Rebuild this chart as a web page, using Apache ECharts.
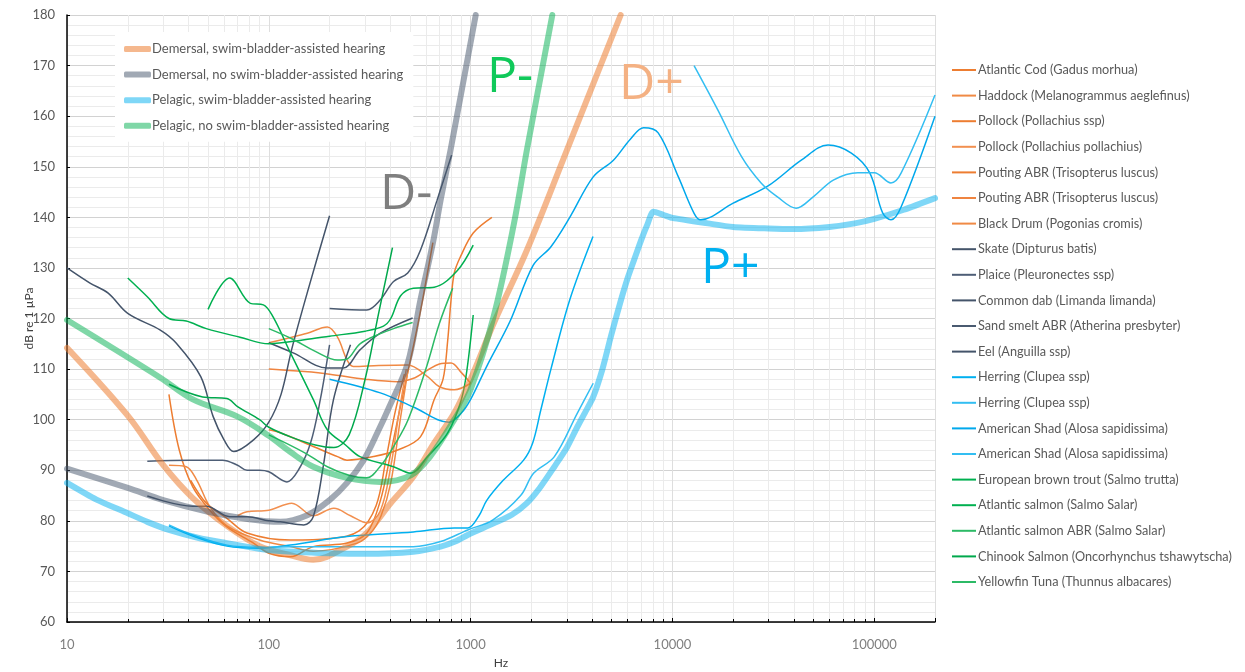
<!DOCTYPE html>
<html><head><meta charset="utf-8">
<script src="https://cdn.jsdelivr.net/npm/echarts@6/dist/echarts.min.js"></script>
<style>html,body{margin:0;padding:0;background:#fff}#c{width:1245px;height:672px}</style>
</head><body><div id="c"></div>
<script>
// ---- reference envelopes (Hz, dB re 1 µPa)
const demersalSB   = [[10,114.2],[20,100.8],[30,91],[42,84.5],[62,79],[90,75],[128,73.2],[166,72.3],[244,74.9],[306,77.6],[402,83.5],[520,88.7],[660,95.4],[830,101.3],[1000,108],[1300,119],[1900,133.5],[3000,153.3],[5540,180]];
const demersalNoSB = [[10,90.3],[20,86.5],[30,84.1],[50,81.8],[80,80.3],[114,79.8],[155,81.1],[200,84.1],[244,87.5],[295,92],[345,97.4],[395,102.5],[488,111.2],[564,123.7],[650,134.9],[710,143.4],[795,153.3],[1060,180]];
const pelagicSB    = [[10,87.5],[14,84.2],[20,81.5],[25,79.8],[32,78.2],[45,76.6],[62,75.6],[80,74.8],[100,74.2],[150,73.8],[200,73.6],[300,73.5],[520,73.9],[710,74.9],[850,76],[967,77.2],[1300,79.5],[1600,81.2],[1900,83.5],[2200,86.5],[2600,90.7],[3000,94.5],[3380,98.6],[3700,101.5],[4050,104.5],[4500,110],[4950,116.4],[5500,123],[6000,128],[6460,131.6],[7000,135.5],[7500,138.5],[8050,141.1],[9000,140.5],[10000,139.9],[15000,138.8],[20000,138.1],[30000,137.8],[40000,137.7],[60000,138.1],[80000,138.8],[100000,139.7],[140000,141.5],[200000,143.8]];
const pelagicNoSB  = [[10,119.7],[29,108.3],[42,104],[70,100.6],[100,96.8],[128,93.6],[166,90.7],[244,88.5],[357,87.7],[505,89],[630,92.7],[830,100],[1000,106],[1300,120.4],[1640,138.8],[1900,153.3],[2540,180]];

// ---- species audiograms
const atlanticCod   = [[32,105],[36,94],[42,86.7],[51,82.1],[62,78.8],[84,75.6],[100,73.6],[128,72.9],[166,74.9],[244,75.6],[306,77.6],[357,84],[400,93],[435,100],[480,108],[530,116],[580,124],[650,135]];
const haddock       = [[32,91],[39,90.7],[44,88],[51,82.8],[62,79],[90,76.2],[128,74.9],[166,74],[274,75.6],[320,77.6],[360,81],[402,87.5],[450,100.5],[490,110]];
const pollockSsp    = [[41,88],[49,83.5],[62,80.5],[78,77.6],[128,76.2],[200,76.5],[280,78],[340,83],[380,92],[420,101],[470,109]];
const pollockPoll   = [[70,81],[78,81.8],[100,82.1],[130,83.5],[166,81],[210,82.5],[254,81],[306,79.6],[357,82],[402,90.7],[440,101],[480,110]];
const poutingA      = [[100,98],[114,97.4],[166,94.7],[219,92.7],[244,92],[330,92.7],[435,94],[564,96.6],[660,104],[730,108],[770,115.7],[800,123.7],[830,129],[890,132.2],[1030,136.9],[1275,140]];
const poutingB      = [[100,110],[150,109.5],[200,109],[300,108],[435,107.5],[530,108.3],[612,109.8],[700,111],[800,111.2],[900,109.3],[1000,107.2]];
const blackDrum     = [[100,115.2],[130,116.3],[155,117.1],[195,118.3],[219,116.3],[244,111.8],[262,110.5],[350,110.7],[488,110.8],[612,108.5],[700,106.5],[830,105.9],[1000,107.2]];
const skate         = [[10,130],[13,127],[16,125],[20,121],[29,117.7],[35,115],[46,108.5],[53,100.6],[60,96],[67,93.7],[84,96],[100,99.5],[115,105],[130,114],[160,127],[200,140.3]];
const plaice        = [[25,91.8],[40,92],[59,92],[70,91],[78,90],[90,90],[100,89.7],[123,87.7],[140,90],[161,95.4],[180,104],[200,114.8]];
const commonDab     = [[25,84.9],[42,82.9],[49,82.9],[64,80.8],[78,80.8],[100,80],[114,79.8],[149,79.2],[166,80.8],[186,90.7],[209,103.9],[254,114.8]];
const sandSmelt     = [[200,122],[306,121.7],[357,123.7],[415,127.3],[488,129],[564,133.5],[682,143.4],[805,152.3]];
const eel           = [[100,115.2],[132,113.2],[195,110.2],[234,110.2],[283,113.8],[357,117.1],[516,120.1]];
const herringA      = [[32,79],[42,77],[62,75],[90,74.6],[128,75.2],[244,76.9],[520,77.8],[830,78.6],[970,78.6],[1100,81],[1200,84],[1450,88],[1830,92],[2030,95.4],[2230,102],[2500,110],[3100,123.7],[4040,136.2]];
const herringB      = [[32,79.2],[42,77.2],[62,75.2],[90,74.8],[128,74.9],[200,74.9],[520,74.9],[710,75.9],[967,78.2],[1290,80.2],[1770,85],[2050,89.4],[2600,92.7],[3380,101.3],[4050,107.2]];
const shadA         = [[200,108],[357,105.3],[520,102.5],[780,99.5],[900,101.3],[1000,104],[1200,110.5],[1570,119.5],[2040,130.5],[2500,134.2],[3100,140],[4050,148],[5100,151.3],[6200,155.5],[7200,157.7],[8500,156.7],[10700,148],[12800,140.8],[13800,139.5],[20000,142.8],[29500,146.1],[43500,151.3],[59000,154.3],[77000,152.7],[95000,148.8],[110000,140.9],[121000,139.5],[136000,142.1],[200000,160]];
const shadB         = [[12800,170],[16800,161.2],[22000,152],[27500,146.8],[33000,144.1],[41000,141.8],[50000,144.1],[63000,147.4],[83000,148.8],[100000,148.8],[121000,146.8],[136000,148.8],[200000,164.2]];
const brownTrout    = [[20,128],[25,124.3],[32,120],[39,119.5],[49,118],[72,116.3],[100,115],[150,115.8],[200,116.5],[300,117.5],[370,118.5],[402,120],[450,124.5],[520,126],[660,126.2],[860,129.5],[1030,134.5]];
const atlSalmon     = [[50,121.8],[64,128],[81,123],[94,122.7],[105,120.3],[128,113.2],[166,104],[195,98],[240,95],[283,92.7],[415,90.7],[505,89.4],[612,92.7],[770,97.4],[900,104],[960,110],[1030,120.7]];
const atlSalmonABR  = [[100,118],[130,116],[170,113.5],[219,111.8],[244,112],[283,115],[357,117],[415,118],[516,119.2]];
const chinook       = [[32,107],[47,104.5],[62,104.2],[70,102.6],[90,100],[100,98.5],[130,96.5],[170,95],[210,94.5],[250,97],[300,108],[350,121],[410,134]];
const yellowfin     = [[100,97],[150,93.5],[195,90.7],[250,89],[306,88.5],[360,91],[420,95],[490,100],[600,110],[700,119],[815,126]];

const envelopeNames = ['Demersal, swim-bladder-assisted hearing','Demersal, no swim-bladder-assisted hearing','Pelagic, swim-bladder-assisted hearing','Pelagic, no swim-bladder-assisted hearing'];
const envelopeData = [demersalSB, demersalNoSB, pelagicSB, pelagicNoSB];
const envelopeColors = ['rgba(237,125,49,0.55)','rgba(68,84,106,0.5)','rgba(0,176,240,0.5)','rgba(0,176,80,0.5)'];

const speciesNames = ['Atlantic Cod (Gadus morhua)','Haddock (Melanogrammus aeglefinus)','Pollock (Pollachius ssp)','Pollock (Pollachius pollachius)','Pouting ABR (Trisopterus luscus)','Pouting ABR (Trisopterus luscus) #2','Black Drum (Pogonias cromis)','Skate (Dipturus batis)','Plaice (Pleuronectes ssp)','Common dab (Limanda limanda)','Sand smelt ABR (Atherina presbyter)','Eel (Anguilla ssp)','Herring (Clupea ssp)','Herring (Clupea ssp) #2','American Shad (Alosa sapidissima)','American Shad (Alosa sapidissima) #2','European brown trout (Salmo trutta)','Atlantic salmon (Salmo Salar)','Atlantic salmon ABR (Salmo Salar)','Chinook Salmon (Oncorhynchus tshawytscha)','Yellowfin Tuna (Thunnus albacares)'];
const speciesData = [atlanticCod,haddock,pollockSsp,pollockPoll,poutingA,poutingB,blackDrum,skate,plaice,commonDab,sandSmelt,eel,herringA,herringB,shadA,shadB,brownTrout,atlSalmon,atlSalmonABR,chinook,yellowfin];
const speciesColors = ['#ED7D31','#F08A45','#ED7D31','#F29050','#ED7D31','#EF8440','#F08A45','#44546A','#4E5E76','#44546A','#4A5A70','#44546A','#00B0F0','#33BEF2','#00A8EC','#33BEF2','#00B050','#00B050','#2CBA66','#00A84C','#2CBA66'];

const bigLabels = ['D-','P-','D+','P+'];
const bigLabelColors = ['#7f7f7f','#10C95A','#F4B183','#00B0F0'];

const FONT = 'Lato, "Open Sans", sans-serif';
const series = [];
speciesNames.forEach((n,i)=>series.push({name:n,type:'line',data:speciesData[i],showSymbol:false,symbol:'none',smooth:0.35,
  lineStyle:{width:1.5,color:speciesColors[i]},itemStyle:{color:speciesColors[i]},z:2,silent:true}));
envelopeNames.forEach((n,i)=>series.push({name:n,type:'line',data:envelopeData[i],showSymbol:false,symbol:'none',smooth:i===2?0.25:0.35,
  lineStyle:{width:6,color:envelopeColors[i],cap:'round',join:'round'},itemStyle:{color:envelopeColors[i]},z:3,silent:true}));

const labelPos = [[380,170],[487,53],[619,60],[701,244]];
const graphics = bigLabels.map((t,i)=>({type:'text',left:labelPos[i][0],top:labelPos[i][1],z:20,
  style:{text:t,fill:bigLabelColors[i],stroke:null,lineWidth:0,fontSize:50,fontWeight:'normal',fontFamily:'"Open Sans", sans-serif'}}));

const chart = echarts.init(document.getElementById('c'),null,{renderer:'canvas'});
chart.setOption({
  animation:false,
  backgroundColor:'#fff',
  textStyle:{fontFamily:FONT},
  grid:{left:67,right:310,top:15,bottom:50,containLabel:false,outerBoundsMode:'none'},
  xAxis:{type:'log',logBase:10,min:10,max:200000,name:'Hz',nameLocation:'middle',nameGap:35,nameMoveOverlap:false,
    nameTextStyle:{color:'#404040',fontSize:12,fontFamily:FONT},
    axisLine:{show:true,lineStyle:{color:'#000',width:1.5}},
    axisTick:{show:true,inside:true,length:4,lineStyle:{color:'#000'}},
    minorTick:{show:true,splitNumber:9,length:3,lineStyle:{color:'#000'}},
    axisLabel:{color:'#7f7f7f',fontSize:13,margin:16,fontFamily:FONT,showMaxLabel:false,formatter:v=>String(Math.round(v))},
    splitLine:{show:true,lineStyle:{color:'#dedede',width:1}},
    minorSplitLine:{show:true,lineStyle:{color:'#ebebeb',width:1}}},
  yAxis:{type:'value',min:60,max:180,interval:10,name:'dB re 1 µPa',nameLocation:'middle',nameGap:32,nameRotate:90,nameMoveOverlap:false,
    nameTextStyle:{color:'#404040',fontSize:12,fontFamily:FONT},
    axisLine:{show:true,lineStyle:{color:'#000',width:1.5}},
    axisTick:{show:true,inside:true,length:3,lineStyle:{color:'#000'}},
    axisLabel:{color:'#595959',fontSize:13,margin:12,fontFamily:FONT},
    splitLine:{show:true,lineStyle:{color:'#d2d2d2',width:1}},
    minorTick:{show:false,splitNumber:5},
    minorSplitLine:{show:true,lineStyle:{color:'#ebebeb',width:1}}},
  legend:[
    {data:envelopeNames,left:115,top:32,orient:'vertical',padding:[10,10,9,9],backgroundColor:'#fff',
     icon:'roundRect',itemWidth:27,itemHeight:6,itemGap:11.6,selectedMode:false,z:10,
     textStyle:{color:'#595959',fontSize:13,lineHeight:14,fontFamily:FONT,padding:[0,0,0,-4]}},
    {data:speciesNames,left:952,top:63,orient:'vertical',padding:0,
     icon:'rect',itemWidth:24,itemHeight:2,itemGap:11.6,selectedMode:false,
     formatter:n=>n.replace(/ #\d$/,''),
     textStyle:{color:'#595959',fontSize:12.7,lineHeight:14,fontFamily:FONT,padding:[0,0,0,-3]}}
  ],
  graphic:graphics,
  series:series
});
</script></body></html>
